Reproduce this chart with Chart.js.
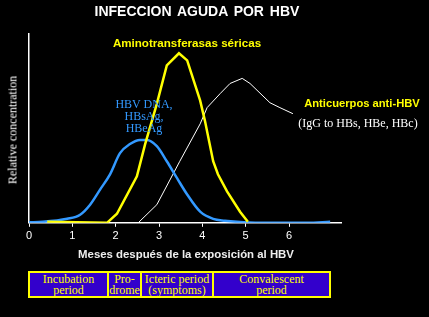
<!DOCTYPE html>
<html>
<head>
<meta charset="utf-8">
<script src="https://cdn.jsdelivr.net/npm/chart.js@4"></script>
<style>
  body { margin: 0; background: #000; }
  #wrap { position: relative; width: 429px; height: 317px; background: #000; overflow: hidden; }
  #chart { position: absolute; left: 0; top: 0; }
  .lbl { position: absolute; white-space: nowrap; transform: translate(-50%, -50%); }
  .sans { font-family: "Liberation Sans", Arial, sans-serif; font-weight: bold; }
  .serif { font-family: "Liberation Serif", "Times New Roman", serif; }
  #phases { position: absolute; left: 28px; top: 271px; border-collapse: collapse; background: #3300cc; }
  #phases td { border: 2px solid #ffff00; color: #ffff00; font-family: "Liberation Serif", serif;
    font-size: 12px; line-height: 11px; text-align: center; padding: 0; height: 23px; }
</style>
</head>
<body>
<div id="wrap">
  <canvas id="chart" width="429" height="317"></canvas>
  <div class="lbl sans" style="left:197px; top:11px; color:#fff; font-size:14px; word-spacing:2px;">INFECCION AGUDA POR HBV</div>
  <div class="lbl sans" style="left:187px; top:42px; color:#ffff00; font-size:11.6px;">Aminotransferasas séricas</div>
  <div class="lbl serif" style="left:144px; top:116px; color:#3399ff; font-size:12px; line-height:12px; text-align:center;">HBV DNA,<br>HBsAg,<br>HBeAg</div>
  <div class="lbl sans" style="left:362px; top:103px; color:#ffff00; font-size:11.2px;">Anticuerpos anti-HBV</div>
  <div class="lbl serif" style="left:358px; top:123px; color:#fff; font-size:12px;">(IgG to HBs, HBe, HBc)</div>
  <div class="lbl serif" style="left:13px; top:130px; color:#fff; font-size:12px; transform:translate(-50%,-50%) rotate(-90deg);">Relative concentration</div>
  <div class="lbl sans" style="left:186px; top:254px; color:#eee; font-size:11.4px;">Meses después de la exposición al HBV</div>
  <table id="phases">
    <tr>
      <td style="width:77px;">Incubation<br>period</td>
      <td style="width:31px;">Pro-<br>drome</td>
      <td style="width:70px;">Icteric period<br>(symptoms)</td>
      <td style="width:115px;">Convalescent<br>period</td>
    </tr>
  </table>
</div>
<script>
// months after exposure / relative concentration (0-100)
const transMonths = [0.42, 1.80, 2.03, 2.49, 2.68, 2.95, 3.18, 3.46, 3.65, 3.95, 4.06, 4.25, 4.36, 4.57, 4.87, 5.05];
const transValues = [0.5, 0, 4.8, 24.6, 41.7, 63, 83.4, 89.8, 86, 64.7, 54, 32.6, 25.7, 16.6, 5.9, 0.5];

const dnaMonths = [0, 0.32, 0.88, 1.18, 1.41, 1.64, 1.87, 2.10, 2.33, 2.56, 2.72, 2.95, 3.18, 3.42, 3.65, 3.95, 4.25, 4.52, 4.80, 5.33, 6.42, 6.95];
const dnaValues = [0.3, 0.5, 2.1, 4.3, 9.6, 17.6, 25.7, 36.9, 41.7, 43.9, 43.9, 40.6, 32.6, 23.5, 15, 5.9, 2.1, 1.1, 0.5, 0, 0, 0.5];

const antiMonths = [2.52, 2.95, 3.48, 3.95, 4.11, 4.41, 4.64, 4.92, 5.10, 5.56, 5.79, 6.09];
const antiValues = [0, 9.6, 32.6, 52.4, 61, 68.4, 73.8, 76.5, 73.8, 63.6, 61, 57.8];

const monthTicks = [0, 1, 2, 3, 4, 5, 6];

const toPoints = (xs, ys) => xs.map((x, i) => ({ x: x, y: ys[i] }));

new Chart(document.getElementById('chart').getContext('2d'), {
    type: 'line',
    data: {
        datasets: [
            {
                label: 'Aminotransferasas séricas',
                data: toPoints(transMonths, transValues),
                borderColor: '#ffff00',
                borderWidth: 2.5,
                pointRadius: 0,
                tension: 0
            },
            {
                label: 'HBV DNA, HBsAg, HBeAg',
                data: toPoints(dnaMonths, dnaValues),
                borderColor: '#3399ff',
                borderWidth: 2.5,
                pointRadius: 0,
                cubicInterpolationMode: 'monotone'
            },
            {
                label: 'Anticuerpos anti-HBV',
                data: toPoints(antiMonths, antiValues),
                borderColor: '#ffffff',
                borderWidth: 1,
                pointRadius: 0,
                tension: 0
            }
        ]
    },
    options: {
        responsive: false,
        animation: false,
        layout: { padding: { left: 29, right: 88, top: 34, bottom: 71 } },
        plugins: { legend: { display: false }, tooltip: { enabled: false } },
        scales: {
            x: {
                type: 'linear',
                min: 0,
                max: 7.2,
                afterBuildTicks: (scale) => {
                    scale.ticks = monthTicks.map(v => ({ value: v }));
                },
                ticks: {
                    color: '#fff',
                    padding: 3,
                    font: { family: 'Liberation Sans', size: 11 }
                },
                grid: { display: true, drawOnChartArea: false, drawTicks: true, tickLength: 4, color: '#fff' },
                border: { display: true, color: '#fff', width: 1.5 }
            },
            y: {
                min: 0,
                max: 100,
                ticks: { display: false },
                grid: { display: true, drawOnChartArea: false, drawTicks: false },
                border: { display: true, color: '#fff', width: 1.5 }
            }
        }
    }
});
</script>
</body>
</html>
